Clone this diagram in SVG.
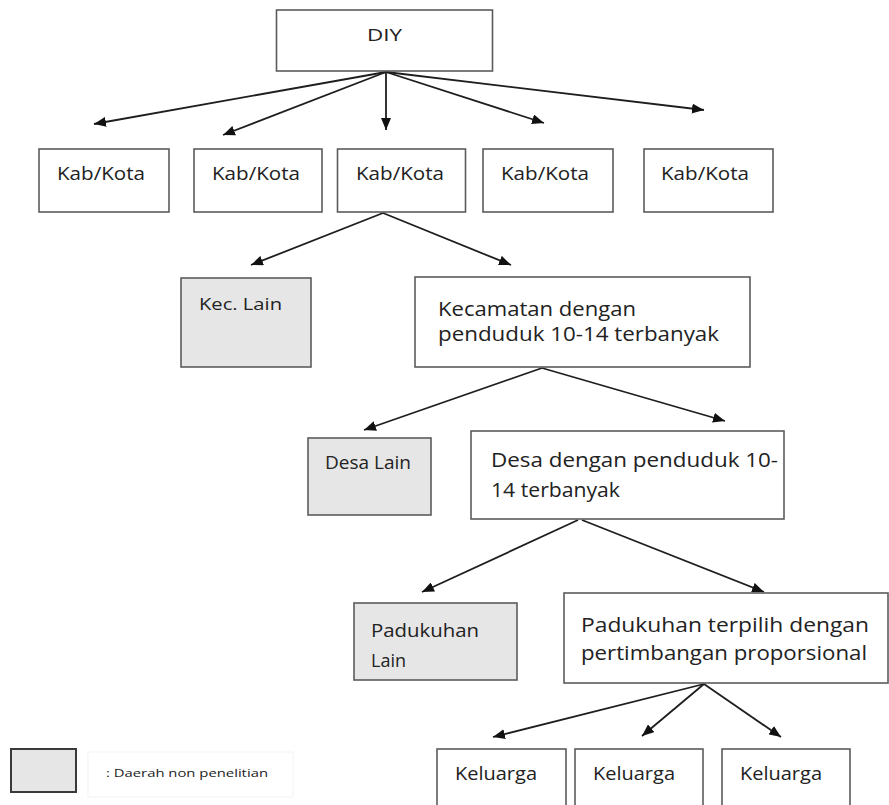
<svg xmlns="http://www.w3.org/2000/svg" width="889" height="805" viewBox="0 0 889 805">
<style>
  .box{fill:#ffffff;stroke:#5c5c5c;stroke-width:1.6}
  .gray{fill:#e6e6e6;stroke:#5c5c5c;stroke-width:1.6}
  .t{font-family:"Open Sans","Liberation Sans",sans-serif;fill:#222222}
  .lg{font-size:20px}
  .md{font-size:19px}
  .sm{font-size:17px}
  .xs{font-size:11px}
  .conn line{stroke:#1e1e1e;stroke-width:1.8;marker-end:url(#ah)}
</style>
<defs>
  <marker id="ah" markerUnits="userSpaceOnUse" markerWidth="12" markerHeight="10" refX="12" refY="5" orient="auto">
    <path d="M0,0 L12,5 L0,10 Z" fill="#111"/>
  </marker>
</defs>
<rect width="889" height="805" fill="#ffffff"/>

<g id="connectors" class="conn">
  <line x1="386" y1="72" x2="94" y2="124"/>
  <line x1="386" y1="72" x2="223" y2="135"/>
  <line x1="386" y1="72" x2="386" y2="130"/>
  <line x1="386" y1="72" x2="544" y2="123"/>
  <line x1="386" y1="72" x2="704" y2="110"/>
  <line x1="383" y1="213" x2="251" y2="265"/>
  <line x1="383" y1="213" x2="511" y2="265"/>
  <line x1="542" y1="368" x2="364" y2="430"/>
  <line x1="542" y1="368" x2="725" y2="421"/>
  <line x1="578" y1="520" x2="422" y2="592"/>
  <line x1="582" y1="520" x2="764" y2="592"/>
  <line x1="704" y1="684" x2="493" y2="737"/>
  <line x1="704" y1="684" x2="642" y2="736"/>
  <line x1="704" y1="684" x2="781" y2="737"/>
</g>

<g id="diy">
  <rect class="box" x="276.5" y="10" width="216" height="61"/>
  <text class="t sm" x="367" y="41" textLength="35" lengthAdjust="spacingAndGlyphs">DIY</text>
</g>

<g id="kab1">
  <rect class="box" x="39" y="149" width="130" height="63"/>
  <text class="t md" x="57" y="180" textLength="88" lengthAdjust="spacingAndGlyphs">Kab/Kota</text>
</g>
<g id="kab2">
  <rect class="box" x="194" y="149" width="128" height="63"/>
  <text class="t md" x="212" y="180" textLength="88" lengthAdjust="spacingAndGlyphs">Kab/Kota</text>
</g>
<g id="kab3">
  <rect class="box" x="337.5" y="149" width="128" height="63"/>
  <text class="t md" x="356" y="180" textLength="88" lengthAdjust="spacingAndGlyphs">Kab/Kota</text>
</g>
<g id="kab4">
  <rect class="box" x="483" y="149" width="130" height="63"/>
  <text class="t md" x="501" y="180" textLength="88" lengthAdjust="spacingAndGlyphs">Kab/Kota</text>
</g>
<g id="kab5">
  <rect class="box" x="644" y="149" width="129" height="63"/>
  <text class="t md" x="661" y="180" textLength="88" lengthAdjust="spacingAndGlyphs">Kab/Kota</text>
</g>

<g id="kec-lain">
  <rect class="gray" x="181" y="278" width="130" height="89"/>
  <text class="t sm" x="199" y="310" textLength="83" lengthAdjust="spacingAndGlyphs">Kec. Lain</text>
</g>
<g id="kecamatan">
  <rect class="box" x="415" y="277" width="335" height="90"/>
  <text class="t lg" x="438" y="316" textLength="198" lengthAdjust="spacingAndGlyphs">Kecamatan dengan</text>
  <text class="t lg" x="438" y="341" textLength="281" lengthAdjust="spacingAndGlyphs">penduduk 10-14 terbanyak</text>
</g>

<g id="desa-lain">
  <rect class="gray" x="308" y="438" width="123" height="77"/>
  <text class="t md" x="325" y="469" textLength="86" lengthAdjust="spacingAndGlyphs">Desa Lain</text>
</g>
<g id="desa">
  <rect class="box" x="471" y="431" width="313" height="88"/>
  <text class="t lg" x="491" y="467" textLength="287" lengthAdjust="spacingAndGlyphs">Desa dengan penduduk 10-</text>
  <text class="t lg" x="491" y="497" textLength="129" lengthAdjust="spacingAndGlyphs">14 terbanyak</text>
</g>

<g id="padukuhan-lain">
  <rect class="gray" x="354" y="603" width="163" height="77"/>
  <text class="t md" x="371" y="637" textLength="108" lengthAdjust="spacingAndGlyphs">Padukuhan</text>
  <text class="t md" x="371" y="667" textLength="35" lengthAdjust="spacingAndGlyphs">Lain</text>
</g>
<g id="padukuhan-terpilih">
  <rect class="box" x="564" y="593" width="324" height="90"/>
  <text class="t lg" x="581" y="632" textLength="288" lengthAdjust="spacingAndGlyphs">Padukuhan terpilih dengan</text>
  <text class="t lg" x="581" y="660" textLength="286" lengthAdjust="spacingAndGlyphs">pertimbangan proporsional</text>
</g>

<g id="keluarga1">
  <rect class="box" x="437" y="749" width="129" height="60"/>
  <text class="t md" x="455" y="780" textLength="82" lengthAdjust="spacingAndGlyphs">Keluarga</text>
</g>
<g id="keluarga2">
  <rect class="box" x="575" y="749" width="128" height="60"/>
  <text class="t md" x="593" y="780" textLength="82" lengthAdjust="spacingAndGlyphs">Keluarga</text>
</g>
<g id="keluarga3">
  <rect class="box" x="722" y="749" width="128" height="60"/>
  <text class="t md" x="740" y="780" textLength="82" lengthAdjust="spacingAndGlyphs">Keluarga</text>
</g>

<g id="legend">
  <rect x="11" y="749" width="65" height="43" fill="#e6e6e6" stroke="#3a3a3a" stroke-width="2"/>
  <rect x="88" y="752" width="205" height="45" fill="none" stroke="#f3f3f3" stroke-width="1"/>
  <text class="t xs" x="106" y="777" textLength="162" lengthAdjust="spacingAndGlyphs">: Daerah non penelitian</text>
</g>
</svg>
